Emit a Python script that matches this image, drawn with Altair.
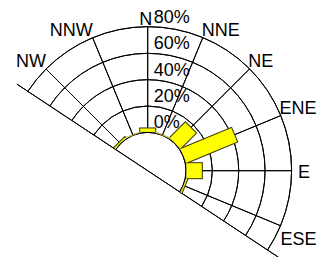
import altair as alt
import pandas as pd

# ---- data ----
directions = ["N", "NNE", "NE", "ENE", "E", "ESE", "NNW", "NW"]
dir_angles = [0, 22.5, 45, 67.5, 90, 112.5, 337.5, 315]
freq = [3, 0, 17, 42, 12, 1.2, 0, 1.2]          # percent
ring_values = [0, 20, 40, 60, 80]
ring_labels = ["0%", "20%", "40%", "60%", "80%"]
sector_start = -56.5     # degrees (compass, clockwise from north)
sector_end = 123.5
boundary_extent = 90     # percent units beyond which boundary line stops

# ---- layout constants ----
CX, CY = 139.7, 162.7
R_IN, R_OUT = 38.3, 143.7
K = (R_OUT - R_IN) / 80.0      # px per percent
HOLE = R_IN / K                # hole radius in percent units
TAU = 6.283185307179586
FONT = "Liberation Sans"

theta_scale = alt.Scale(domain=[0, 360], range=[0, TAU], nice=False, zero=False)
radius_scale = alt.Scale(type="linear", domain=[0, 80], range=[R_IN, R_OUT], nice=False, zero=False)
x_scale = alt.Scale(domain=[-100, 100], range=[CX - 100 * K, CX + 100 * K], nice=False, zero=False)
y_scale = alt.Scale(domain=[-100, 100], range=[CY + 100 * K, CY - 100 * K], nice=False, zero=False)

cx = alt.value(CX)
cy = alt.value(CY)

# rings
rings_df = pd.DataFrame({"v": ring_values, "t0": sector_start, "t1": sector_end})
rings = alt.Chart(rings_df).mark_arc(filled=False, stroke="black", strokeWidth=1).encode(
    theta=alt.Theta("t0:Q", scale=theta_scale, stack=False),
    theta2="t1:Q",
    radius=alt.Radius("v:Q", scale=radius_scale),
    radius2="v:Q",
    x=cx, y=cy,
)

# radial grid lines
spokes_df = pd.DataFrame({"a": dir_angles, "r0": ring_values[0], "r1": ring_values[-1]})
spokes = alt.Chart(spokes_df).mark_arc(filled=False, stroke="black", strokeWidth=1).encode(
    theta=alt.Theta("a:Q", scale=theta_scale, stack=False),
    theta2="a:Q",
    radius=alt.Radius("r0:Q", scale=radius_scale),
    radius2="r1:Q",
    x=cx, y=cy,
)

# boundary diameter
bound_df = pd.DataFrame({"a": [sector_start, sector_end], "r0": -HOLE, "r1": boundary_extent})
boundary = alt.Chart(bound_df).mark_arc(filled=False, stroke="black", strokeWidth=1).encode(
    theta=alt.Theta("a:Q", scale=theta_scale, stack=False),
    theta2="a:Q",
    radius=alt.Radius("r0:Q", scale=radius_scale),
    radius2="r1:Q",
    x=cx, y=cy,
)

# bars as rotated rectangles (thick rules)
bars_df = pd.DataFrame({"dir": directions, "angle": dir_angles, "freq": freq})
start_u = HOLE + 0.5 / K
bar_base = alt.Chart(bars_df).transform_calculate(
    rad="datum.angle * PI / 180",
).transform_calculate(
    xa=f"{start_u} * sin(datum.rad)",
    ya=f"{start_u} * cos(datum.rad)",
    xb=f"({HOLE} + datum.freq) * sin(datum.rad)",
    yb=f"({HOLE} + datum.freq) * cos(datum.rad)",
    xo=f"({HOLE} + datum.freq + {1.0 / K}) * sin(datum.rad)",
    yo=f"({HOLE} + datum.freq + {1.0 / K}) * cos(datum.rad)",
)
bar_outline = bar_base.mark_rule(strokeWidth=17, color="#333300", strokeCap="butt").encode(
    x=alt.X("xa:Q", scale=x_scale, axis=None),
    y=alt.Y("ya:Q", scale=y_scale, axis=None),
    x2="xo:Q",
    y2="yo:Q",
)
bar_fill = bar_base.mark_rule(strokeWidth=15, color="#FFFF00", strokeCap="butt").encode(
    x=alt.X("xa:Q", scale=x_scale, axis=None),
    y=alt.Y("ya:Q", scale=y_scale, axis=None),
    x2="xb:Q",
    y2="yb:Q",
)

# percentage labels
pct_df = pd.DataFrame({"v": ring_values, "label": ring_labels})
pct_text = alt.Chart(pct_df).mark_text(
    align="left", baseline="alphabetic", dx=6, dy=-4, fontSize=18, font=FONT, color="black"
).encode(
    theta=alt.value(0),
    radius=alt.Radius("v:Q", scale=radius_scale),
    text="label:N",
    x=cx, y=cy,
)

# direction labels
lab_df = pd.DataFrame({"dir": directions, "angle": dir_angles, "r": ring_values[-1]})


def dir_layer(names, align, dx, dy):
    return alt.Chart(lab_df).transform_filter(
        alt.FieldOneOfPredicate(field="dir", oneOf=names)
    ).mark_text(
        align=align, baseline="alphabetic", dx=dx, dy=dy, fontSize=18, font=FONT, color="black"
    ).encode(
        theta=alt.Theta("angle:Q", scale=theta_scale, stack=False),
        radius=alt.Radius("r:Q", scale=radius_scale),
        text="dir:N",
        x=cx, y=cy,
    )


labels = [
    dir_layer(["N"], "center", -2, -1.7),
    dir_layer(["NNE", "NE", "ENE"], "left", -1, -2),
    dir_layer(["E"], "left", 6.5, 7),
    dir_layer(["ESE"], "left", 0, 19),
    dir_layer(["NNW", "NW"], "right", 0, -2),
]

chart = alt.layer(
    rings, spokes, boundary, bar_outline, bar_fill, pct_text, *labels
).properties(
    width=309, height=249, padding=0, autosize=alt.AutoSizeParams(type="none"), background="white"
).configure_view(stroke=None)

chart.save("out.html", embed_options={"renderer": "svg", "actions": False})
